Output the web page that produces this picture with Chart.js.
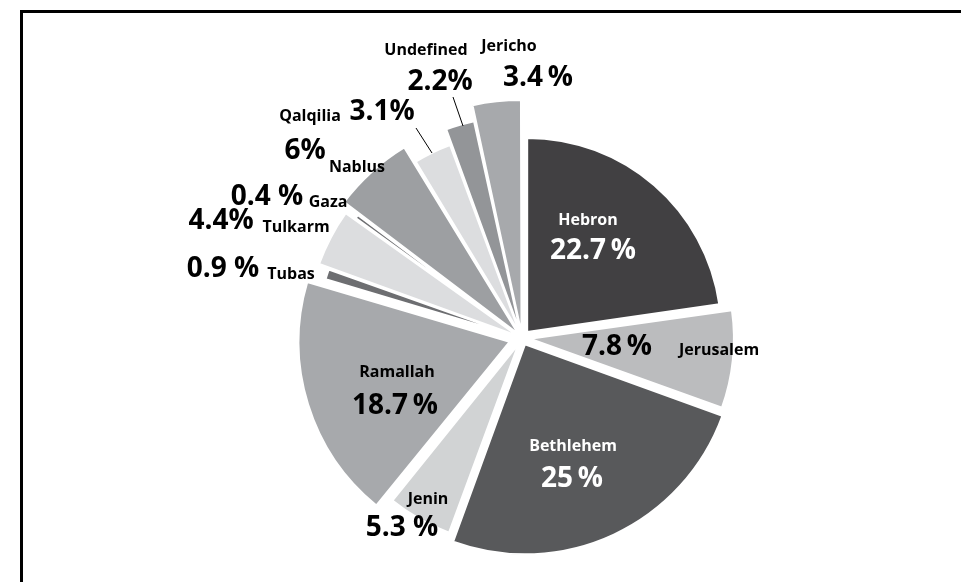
<!DOCTYPE html>
<html>
<head>
<meta charset="utf-8">
<script src="https://cdn.jsdelivr.net/npm/chart.js@4.4.1/dist/chart.umd.min.js"></script>
<style>
  html, body { margin: 0; padding: 0; background: #fff; }
  #wrap { position: relative; width: 961px; height: 582px; overflow: hidden; }
  #frame { position: absolute; left: 20px; top: 10px; right: -10px; bottom: -10px; border-top: 3px solid #000; border-left: 3px solid #000; }
  canvas { position: absolute; left: 0; top: 0; }
</style>
</head>
<body>
<div id="wrap">
  <div id="frame"></div>
  <canvas id="pieChart" width="961" height="582"></canvas>
</div>
<script>
const regions = ["Hebron", "Jerusalem", "Bethlehem", "Jenin", "Ramallah", "Tubas", "Tulkarm", "Gaza", "Nablus", "Qalqilia", "Undefined", "Jericho"];
const shares = [22.7, 7.8, 25, 5.3, 18.7, 0.9, 4.4, 0.4, 6, 3.1, 2.2, 3.4];
const shareLabels = ["22.7\u2009%", "7.8\u2009%", "25\u2009%", "5.3 %", "18.7\u2009%", "0.9 %", "4.4%", "0.4 %", "6%", "3.1%", "2.2%", "3.4\u2009%"];

const sliceColors = ["#414042", "#bbbcbe", "#58595b", "#d1d3d4", "#a7a9ac", "#6d6e71",
                     "#dcdddf", "#6d6e71", "#9d9fa2", "#dcdddf", "#939598", "#a7a9ac"];
// outer radius and outward shift of each slice, px
const sliceRadius = [194, 200, 210, 196, 210, 197, 208, 197, 216, 198, 214, 230];
const sliceShift = [8, 12, 7, 12, 14, 8, 8, 8, 8, 8, 8, 8];

// label places from the pie centre: [nameX, nameY, pctX, pctY]
const labelPlaces = [
  [66, -118, 71, -87],
  [197, 12, 95, 9],
  [51, 108, 50, 141],
  [-94, 161, -120, 190],
  [-125, 34, -127, 68],
  [-231, -64, -299, -69],
  [-226, -111, -301, -117],
  [-194, -136, -255, -141],
  [-165, -171, -217, -187],
  [-212, -222, -140, -226],
  [-96, -288, -82, -256],
  [-13, -292, 16, -260]
];
const whiteText = [true, false, true, false, false, false, false, false, false, false, false, false];
const leaderLines = [[-106, -210, -90, -185], [-69, -241, -59, -212]];

// pie whose slices may have their own outer radius
class ExplodedPieController extends Chart.PieController {
  updateElements(arcs, start, count, mode) {
    super.updateElements(arcs, start, count, mode);
    for (let i = start; i < start + count; i++) {
      arcs[i].outerRadius = sliceRadius[i];
    }
  }
}
ExplodedPieController.id = "explodedPie";
Chart.register(ExplodedPieController);

const totalShare = shares.reduce((a, b) => a + b, 0);

const labelPlugin = {
  id: "sliceLabels",
  afterDatasetsDraw(chart) {
    const { ctx, chartArea } = chart;
    const cx = (chartArea.left + chartArea.right) / 2;
    const cy = (chartArea.top + chartArea.bottom) / 2;
    ctx.save();
    ctx.strokeStyle = "#000";
    ctx.lineWidth = 1;
    leaderLines.forEach((l) => {
      ctx.beginPath();
      ctx.moveTo(cx + l[0], cy + l[1]);
      ctx.lineTo(cx + l[2], cy + l[3]);
      ctx.stroke();
    });
    ctx.textAlign = "center";
    ctx.textBaseline = "middle";
    regions.forEach((name, i) => {
      const p = labelPlaces[i];
      ctx.fillStyle = whiteText[i] ? "#fff" : "#000";
      ctx.font = 'bold 16px "Open Sans"';
      ctx.fillText(name, cx + p[0], cy + p[1]);
      ctx.font = 'bold 28px "Open Sans"';
      ctx.fillText(shareLabels[i], cx + p[2], cy + p[3]);
    });
    ctx.restore();
  }
};

const ctx = document.getElementById("pieChart").getContext("2d");
new Chart(ctx, {
  type: "explodedPie",
  data: {
    labels: regions,
    datasets: [
      {
        data: shares,
        backgroundColor: sliceColors,
        borderColor: "#ffffff",
        borderWidth: 2,
        borderJoinStyle: "miter",
        // arc offset is scaled inside Chart.js, turn it back into pixels
        offset: (c) => {
          const circ = (c.raw / totalShare) * 2 * Math.PI;
          const fix = 1 - Math.sin(Math.min(Math.PI, circ));
          return (sliceShift[c.dataIndex] * 4) / (1 + fix);
        },
      },
    ],
  },
  options: {
    responsive: false,
    animation: false,
    layout: { padding: { left: 83, right: 0, top: 94, bottom: 0 } },
    plugins: {
      legend: { display: false },
      tooltip: { enabled: false },
    },
  },
  plugins: [labelPlugin],
});
</script>
</body>
</html>
